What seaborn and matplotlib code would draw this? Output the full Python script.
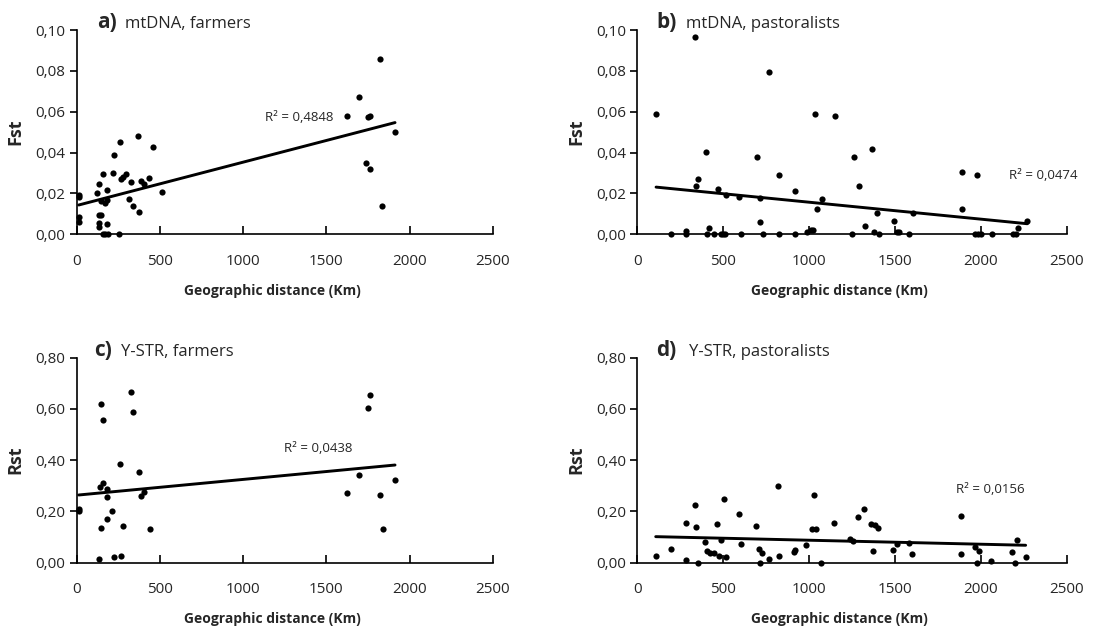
import matplotlib

matplotlib.use("Agg")
import matplotlib.pyplot as plt
import seaborn as sns
from matplotlib.ticker import FuncFormatter, MultipleLocator

# a) mtDNA, farmers
a_dist = [12, 12, 12, 16, 124, 136, 136, 144, 136, 136, 148, 160, 172, 180, 184,
          180, 156, 172, 188, 256, 216, 226, 262, 268, 280, 296, 316, 326, 336,
          370, 377, 385, 405, 437, 457, 513, 1623, 1699, 1739, 1751, 1763, 1763,
          1823, 1837, 1913]
a_fst = [0.0184, 0.019, 0.0086, 0.0062, 0.020, 0.0245, 0.0095, 0.0095, 0.0057,
         0.0038, 0.0163, 0.0295, 0.0152, 0.017, 0.0215, 0.0049, 0.0, 0.0, 0.0,
         0.0, 0.030, 0.039, 0.045, 0.027, 0.028, 0.0295, 0.0175, 0.0258, 0.014,
         0.0483, 0.011, 0.0263, 0.0245, 0.0277, 0.0427, 0.0209, 0.058, 0.0672,
         0.0349, 0.0576, 0.058, 0.0318, 0.086, 0.014, 0.050]

# b) mtDNA, pastoralists
b_dist = [109, 198, 283, 283, 336, 342, 353, 398, 404, 419, 446, 470, 485, 501,
          512, 516, 594, 606, 695, 714, 714, 734, 767, 823, 823, 916, 920, 986,
          1009, 1021, 1036, 1048, 1075, 1149, 1248, 1262, 1289, 1324, 1366, 1378,
          1394, 1409, 1494, 1514, 1522, 1584, 1607, 1891, 1891, 1964, 1980, 1984,
          1999, 2065, 2190, 2205, 2217, 2271]
b_fst = [0.0589, 0.0, 0.0018, 0.0, 0.0967, 0.0237, 0.0271, 0.0403, 0.0, 0.0029,
         0.0, 0.022, 0.0, 0.0, 0.0, 0.019, 0.0184, 0.0, 0.0378, 0.018, 0.0059,
         0.0, 0.0796, 0.029, 0.0, 0.0, 0.021, 0.001, 0.002, 0.002, 0.059, 0.0122,
         0.0171, 0.0579, 0.0, 0.0377, 0.0237, 0.0041, 0.0416, 0.001, 0.0103, 0.0,
         0.0065, 0.001, 0.001, 0.0, 0.0103, 0.0307, 0.0126, 0.0, 0.029, 0.0, 0.0,
         0.0, 0.0, 0.0, 0.0031, 0.0064]

# c) Y-STR, farmers
c_dist = [12, 12, 136, 140, 146, 148, 156, 160, 180, 180, 180, 214, 226, 258,
          264, 276, 329, 337, 373, 385, 405, 439, 1623, 1699, 1751, 1763, 1823,
          1839, 1913]
c_rst = [0.209, 0.203, 0.013, 0.294, 0.620, 0.137, 0.557, 0.312, 0.287, 0.258,
         0.170, 0.200, 0.022, 0.385, 0.025, 0.144, 0.667, 0.587, 0.354, 0.260,
         0.274, 0.133, 0.273, 0.343, 0.602, 0.656, 0.265, 0.131, 0.324]

# d) Y-STR, pastoralists
d_dist = [107, 194, 281, 281, 334, 340, 351, 396, 404, 423, 446, 466, 474, 485,
          507, 516, 590, 604, 693, 710, 714, 728, 765, 817, 823, 912, 918, 984,
          1015, 1031, 1042, 1071, 1145, 1240, 1258, 1285, 1318, 1361, 1374, 1386,
          1400, 1489, 1510, 1580, 1601, 1885, 1887, 1966, 1976, 1988, 2059, 2182,
          2199, 2209, 2261]
d_rst = [0.026, 0.052, 0.153, 0.012, 0.224, 0.139, 0.0, 0.079, 0.044, 0.039,
         0.036, 0.152, 0.026, 0.088, 0.250, 0.022, 0.189, 0.074, 0.142, 0.052,
         0.0, 0.036, 0.013, 0.298, 0.026, 0.043, 0.049, 0.070, 0.131, 0.263,
         0.131, 0.0, 0.153, 0.091, 0.085, 0.178, 0.208, 0.152, 0.044, 0.148,
         0.135, 0.049, 0.073, 0.075, 0.035, 0.033, 0.183, 0.062, 0.0, 0.047,
         0.005, 0.043, 0.0, 0.090, 0.023]

letters = ["a)", "b)", "c)", "d)"]
titles = ["mtDNA, farmers", "mtDNA, pastoralists", "Y-STR, farmers", "Y-STR, pastoralists"]
r2_labels = ["0,4848", "0,0474", "0,0438", "0,0156"]
y_names = ["Fst", "Fst", "Rst", "Rst"]

sns.set_theme(style="ticks")
plt.rcParams["font.family"] = ["Open Sans", "DejaVu Sans"]

fig = plt.figure(figsize=(11.04, 6.27), dpi=100)
rects = [
    (0.0695, 0.6263, 0.3768, 0.3258),
    (0.5773, 0.6263, 0.3889, 0.3258),
    (0.0695, 0.1026, 0.3768, 0.3270),
    (0.5773, 0.1026, 0.3889, 0.3270),
]
panels = [(a_dist, a_fst), (b_dist, b_fst), (c_dist, c_rst), (d_dist, d_rst)]
ymax = [0.10, 0.10, 0.80, 0.80]
ystep = [0.02, 0.02, 0.20, 0.20]
# label positions in data units (title x for letter / text, R2 x / y)
letter_x = [122, 113, 106, 107]
title_x = [292, 282, 264, 301]
r2_pos = [(1130, 0.057), (2166, 0.029), (1246, 0.446), (1856, 0.284)]

comma = FuncFormatter(lambda v, _: f"{v:.2f}".replace(".", ","))

for i, (x, y) in enumerate(panels):
    ax = fig.add_axes(rects[i])
    sns.regplot(
        x=x, y=y, ax=ax, ci=None, color="black",
        scatter_kws=dict(s=20, alpha=1, linewidths=0, clip_on=False, zorder=3),
        line_kws=dict(linewidth=2.1),
    )
    ax.set_xlim(0, 2500)
    ax.set_ylim(0, ymax[i])
    ax.xaxis.set_major_locator(MultipleLocator(500))
    ax.yaxis.set_major_locator(MultipleLocator(ystep[i]))
    ax.yaxis.set_major_formatter(comma)
    for side in ("top", "right"):
        ax.spines[side].set_visible(False)
    for side in ("left", "bottom"):
        ax.spines[side].set_color("black")
        ax.spines[side].set_linewidth(1.2)
    ax.tick_params(axis="x", direction="in", length=6, width=1.2, color="black",
                   labelsize=11, pad=14)
    ax.tick_params(axis="y", direction="out", length=5, width=1.2, color="black",
                   labelsize=11, pad=3)
    ax.set_xlabel("Geographic distance (Km)", fontsize=10, fontweight="bold",
                  labelpad=11)
    ax.xaxis.label.set_x(0.47)
    ax.set_ylabel(y_names[i], fontsize=13, fontweight="bold", labelpad=8)

    ytop = ymax[i] * 1.01
    ax.text(letter_x[i], ytop, letters[i], fontsize=15, fontweight="bold",
            va="baseline", ha="left", clip_on=False)
    ax.text(title_x[i], ytop, titles[i], fontsize=12, va="baseline", ha="left",
            clip_on=False)
    rx, ry = r2_pos[i]
    ax.text(rx, ry, f"R² = {r2_labels[i]}", fontsize=9.5, va="center", ha="left",
            clip_on=False)

fig.savefig("out.png", dpi=100)
plt.close(fig)
